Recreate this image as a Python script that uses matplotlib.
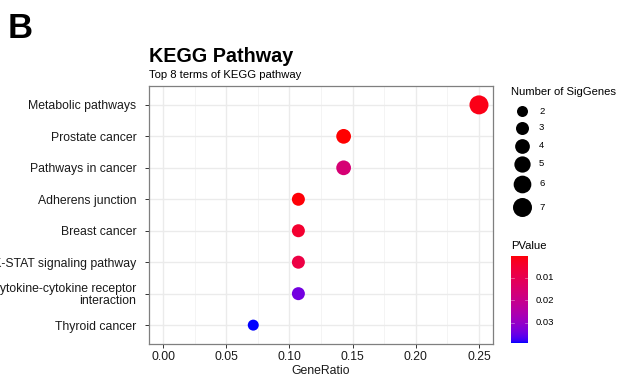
import numpy as np
import matplotlib
matplotlib.use("Agg")
import matplotlib.pyplot as plt
from matplotlib.colors import LinearSegmentedColormap, Normalize

plt.rcParams['font.family'] = ['Liberation Sans', 'DejaVu Sans']

terms = ["Metabolic pathways", "Prostate cancer", "Pathways in cancer",
         "Adherens junction", "Breast cancer", "JAK-STAT signaling pathway",
         "Cytokine-cytokine receptor\ninteraction", "Thyroid cancer"]
gene_ratio = [0.25, 0.1429, 0.1429, 0.1071, 0.1071, 0.1071, 0.1071, 0.0714]
sig_genes = [7, 4, 4, 3, 3, 3, 3, 2]
pvalues = [0.002, 0.0003, 0.016, 0.0008, 0.005, 0.008, 0.034, 0.039]
size_levels = [2, 3, 4, 5, 6, 7]
pv_ticks = [0.01, 0.02, 0.03]
pv_min, pv_max = 0.0002, 0.0390

# --- Lab interpolation red -> blue (ggplot-like gradient) ---
def srgb_to_lab(c):
    c = np.array(c, float)
    lin = np.where(c <= 0.04045, c / 12.92, ((c + 0.055) / 1.055) ** 2.4)
    M = np.array([[0.4124, 0.3576, 0.1805], [0.2126, 0.7152, 0.0722], [0.0193, 0.1192, 0.9505]])
    xyz = M @ lin
    xyz = xyz / np.array([0.95047, 1.0, 1.08883])
    f = np.where(xyz > 0.008856, np.cbrt(xyz), 7.787 * xyz + 16 / 116)
    return np.array([116 * f[1] - 16, 500 * (f[0] - f[1]), 200 * (f[1] - f[2])])

def lab_to_srgb(lab):
    L, a, b = lab
    fy = (L + 16) / 116
    fx = fy + a / 500
    fz = fy - b / 200
    f = np.array([fx, fy, fz])
    xyz = np.where(f ** 3 > 0.008856, f ** 3, (f - 16 / 116) / 7.787)
    xyz = xyz * np.array([0.95047, 1.0, 1.08883])
    Minv = np.array([[3.2406, -1.5372, -0.4986], [-0.9689, 1.8758, 0.0415], [0.0557, -0.2040, 1.0570]])
    lin = Minv @ xyz
    lin = np.clip(lin, 0, 1)
    c = np.where(lin <= 0.0031308, 12.92 * lin, 1.055 * lin ** (1 / 2.4) - 0.055)
    return np.clip(c, 0, 1)

lab_r = srgb_to_lab([1, 0, 0])
lab_b = srgb_to_lab([0, 0, 1])
cols = [lab_to_srgb(lab_r + (lab_b - lab_r) * t) for t in np.linspace(0, 1, 64)]
cmap = LinearSegmentedColormap.from_list("rb", cols)
norm = Normalize(pv_min, pv_max)

def area(n):
    d_px = np.sqrt(121 + 48 * (n - 2))
    d_pt = d_px * 0.72
    return d_pt ** 2

W, H = 617, 379
fig = plt.figure(figsize=(W / 100, H / 100), dpi=100)

def rect(x0, y0, x1, y1):
    return [x0 / W, 1 - y1 / H, (x1 - x0) / W, (y1 - y0) / H]

ax = fig.add_axes(rect(149, 86, 493, 344))
ypos = np.arange(len(terms))[::-1]
ax.set_xlim(-0.0111, 0.2611)
ax.set_ylim(-0.6, len(terms) - 0.4)
ax.set_xticks([0, 0.05, 0.10, 0.15, 0.20, 0.25])
ax.set_xticklabels(["0.00", "0.05", "0.10", "0.15", "0.20", "0.25"])
ax.set_xticks([0.025, 0.075, 0.125, 0.175, 0.225], minor=True)
ax.set_yticks(ypos)
ax.set_yticklabels(terms, linespacing=0.95, multialignment='right')
ax.grid(True, which='major', color='#EBEBEB', linewidth=1.0)
ax.grid(True, which='minor', axis='x', color='#F2F2F2', linewidth=0.6)
ax.set_axisbelow(True)
for s in ax.spines.values():
    s.set_color('#7F7F7F')
    s.set_linewidth(0.9)
ax.tick_params(axis='both', which='major', colors='#333333', length=3.2, width=0.7,
               labelsize=8.8, labelcolor='#1A1A1A')
ax.tick_params(axis='x', which='minor', length=0)
ax.tick_params(axis='y', pad=5.8)
ax.tick_params(axis='x', pad=1.8)
ax.scatter(gene_ratio, ypos, s=[area(n) for n in sig_genes],
           c=pvalues, cmap=cmap, norm=norm, linewidths=0, zorder=3)
ax.set_xlabel("GeneRatio", fontsize=8.8, labelpad=1.5, color='#1A1A1A')

fig.text(8 / W, 1 - 38 / H, "B", fontsize=25, fontweight='bold', ha='left', va='baseline')
fig.text(149 / W, 1 - 62 / H, "KEGG Pathway", fontsize=14.2, fontweight='bold', ha='left', va='baseline')
fig.text(149 / W, 1 - 78 / H, "Top 8 terms of KEGG pathway", fontsize=8.1, ha='left', va='baseline')

# size legend
fig.text(511 / W, 1 - 95 / H, "Number of SigGenes", fontsize=8.1, ha='left', va='baseline')
lax = fig.add_axes([0, 0, 1, 1], facecolor='none')
lax.set_xlim(0, W)
lax.set_ylim(H, 0)
lax.axis('off')
leg_y = [111, 128, 146, 164, 184, 207]
for lv, yy in zip(size_levels, leg_y):
    lax.scatter([522], [yy], s=area(lv), color='black', linewidths=0)
    lax.text(539, yy, str(lv), fontsize=6.8, va='center', ha='left')

# colorbar
fig.text(511 / W, 1 - 249 / H, "PValue", fontsize=8.1, ha='left', va='baseline')
cax = fig.add_axes(rect(511, 256, 528, 343))
grad = np.linspace(pv_min, pv_max, 256).reshape(-1, 1)
cax.imshow(grad, aspect='auto', cmap=cmap, norm=norm, origin='upper',
           extent=[0, 1, pv_max, pv_min])
cax.set_ylim(pv_max, pv_min)
cax.set_xlim(0, 1)
cax.set_xticks([])
cax.set_yticks([])
for s in cax.spines.values():
    s.set_visible(False)
for t in pv_ticks:
    cax.plot([0, 0.2], [t, t], color='white', lw=0.5, alpha=0.5)
    cax.plot([0.8, 1], [t, t], color='white', lw=0.5, alpha=0.5)
    cax.text(1.45, t, f"{t:.2f}", fontsize=6.8, va='center', ha='left', transform=cax.get_yaxis_transform())

fig.savefig("out.png", dpi=100)
